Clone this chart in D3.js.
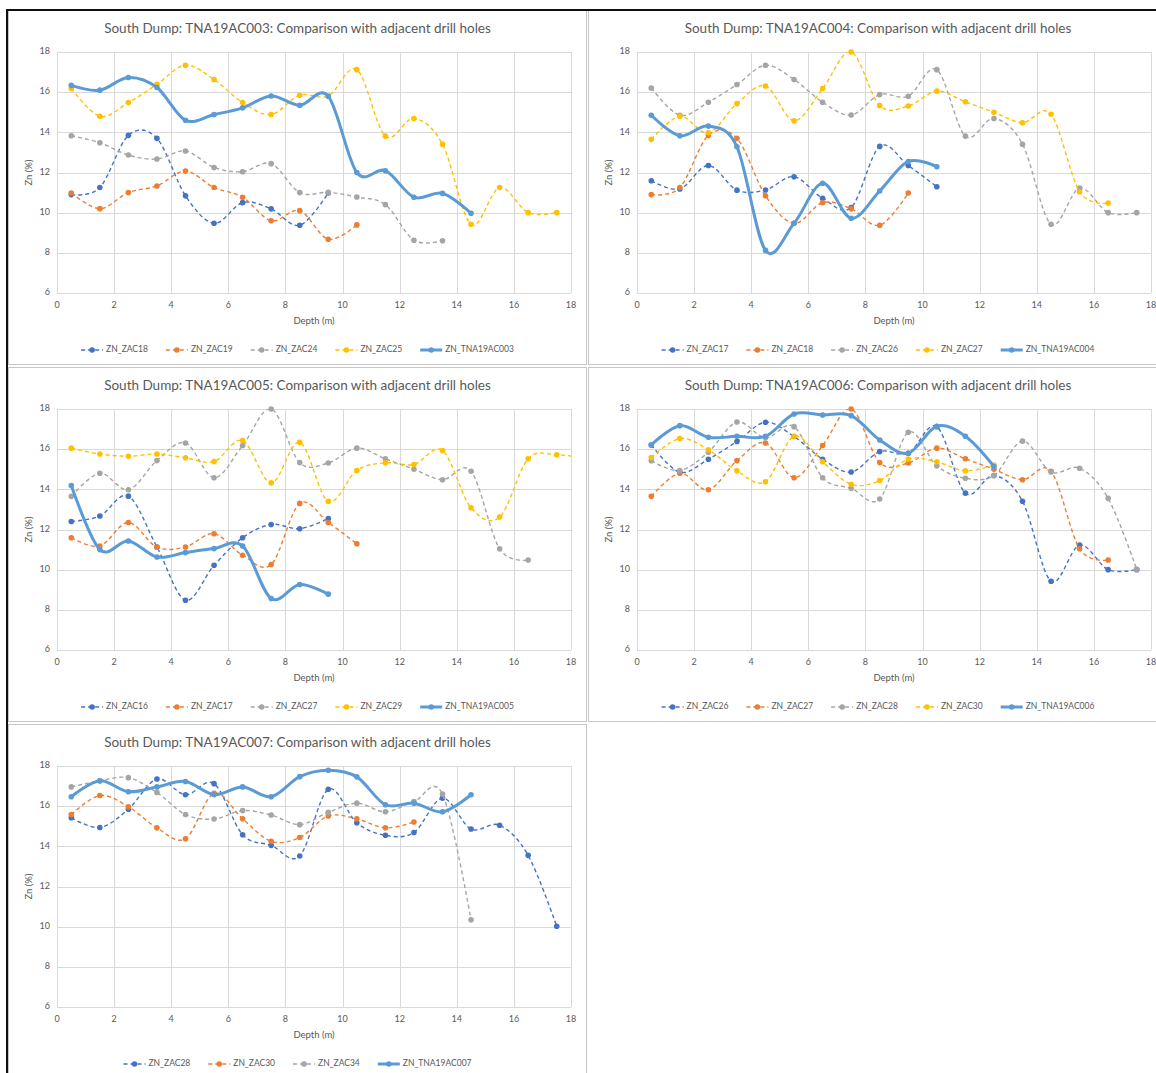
<!DOCTYPE html>
<html>
<head>
<meta charset="utf-8">
<script src="https://cdn.jsdelivr.net/npm/d3@7"></script>
<style>
  body { margin: 0; background: #fff; }
  text { font-family: Lato, "Open Sans", sans-serif; fill: #595959; }
</style>
</head>
<body>
<svg id="chart"></svg>
<script>

// #####################################################
// Data: Zn (%) per 1 m sample, plotted at sample mid depth
//
var depth = [0.5, 1.5, 2.5, 3.5, 4.5, 5.5, 6.5, 7.5, 8.5, 9.5, 10.5, 11.5, 12.5, 13.5, 14.5, 15.5, 16.5, 17.5, 18.5];

var zac16 = [12.40, 12.67, 13.66, 11.13, 8.48, 10.22, 11.59, 12.25, 12.04, 12.54];
var zac17 = [11.59, 11.18, 12.35, 11.12, 11.13, 11.79, 10.72, 10.26, 13.30, 12.35, 11.29];
var zac18 = [10.90, 11.25, 13.85, 13.70, 10.84, 9.47, 10.50, 10.19, 9.37, 10.98];
var zac19 = [10.98, 10.20, 11.00, 11.33, 12.07, 11.25, 10.77, 9.60, 10.10, 8.68, 9.39];
var zac24 = [13.83, 13.48, 12.87, 12.67, 13.07, 12.25, 12.04, 12.44, 11.00, 11.01, 10.78, 10.40, 8.63, 8.60];
var zac25 = [16.18, 14.80, 15.48, 16.39, 17.34, 16.63, 15.48, 14.89, 15.85, 15.81, 17.12, 13.81, 14.69, 13.41, 9.42, 11.25, 10.00, 10.00];
var zac26 = [16.21, 14.85, 15.50, 16.38, 17.34, 16.63, 15.50, 14.86, 15.88, 15.80, 17.12, 13.81, 14.69, 13.41, 9.42, 11.22, 10.00, 10.00];
var zac27 = [13.65, 14.80, 13.98, 15.43, 16.31, 14.58, 16.18, 18.00, 15.33, 15.31, 16.05, 15.52, 15.00, 14.48, 14.90, 11.04, 10.48];
var zac28 = [15.42, 14.94, 15.85, 17.35, 16.57, 17.12, 14.58, 14.05, 13.52, 16.84, 15.17, 14.55, 14.69, 16.40, 14.86, 15.05, 13.55, 10.02];
var zac29 = [16.05, 15.76, 15.65, 15.76, 15.57, 15.38, 16.43, 14.32, 16.34, 13.40, 14.94, 15.32, 15.24, 15.93, 13.08, 12.62, 15.52, 15.72, 15.55];
var zac30 = [15.58, 16.53, 15.97, 14.92, 14.38, 16.64, 15.37, 14.25, 14.44, 15.51, 15.37, 14.92, 15.21];
var zac34 = [16.96, 17.26, 17.42, 16.68, 15.58, 15.36, 15.78, 15.56, 15.08, 15.69, 16.15, 15.72, 16.23, 16.60, 10.34];

var tna003 = [16.34, 16.10, 16.73, 16.23, 14.60, 14.89, 15.22, 15.81, 15.35, 15.80, 12.00, 12.09, 10.77, 10.96, 9.97];
var tna004 = [14.85, 13.83, 14.31, 13.28, 8.12, 9.47, 11.46, 9.72, 11.08, 12.55, 12.29];
var tna005 = [14.19, 11.00, 11.43, 10.63, 10.85, 11.05, 11.18, 8.56, 9.26, 8.78];
var tna006 = [16.21, 17.17, 16.59, 16.64, 16.64, 17.75, 17.70, 17.67, 16.46, 15.80, 17.14, 16.64, 15.14];
var tna007 = [16.47, 17.26, 16.72, 16.96, 17.23, 16.57, 16.96, 16.47, 17.47, 17.79, 17.46, 16.07, 16.15, 15.72, 16.57];

var xTicks = [0, 2, 4, 6, 8, 10, 12, 14, 16, 18];
var yTicks = [6, 8, 10, 12, 14, 16, 18];

// which holes go on which chart (series order = Excel series order)
var holes003 = [['ZN_ZAC18', zac18], ['ZN_ZAC19', zac19], ['ZN_ZAC24', zac24], ['ZN_ZAC25', zac25], ['ZN_TNA19AC003', tna003]];
var holes004 = [['ZN_ZAC17', zac17], ['ZN_ZAC18', zac18], ['ZN_ZAC26', zac26], ['ZN_ZAC27', zac27], ['ZN_TNA19AC004', tna004]];
var holes005 = [['ZN_ZAC16', zac16], ['ZN_ZAC17', zac17], ['ZN_ZAC27', zac27], ['ZN_ZAC29', zac29], ['ZN_TNA19AC005', tna005]];
var holes006 = [['ZN_ZAC26', zac26], ['ZN_ZAC27', zac27], ['ZN_ZAC28', zac28], ['ZN_ZAC30', zac30], ['ZN_TNA19AC006', tna006]];
var holes007 = [['ZN_ZAC28', zac28], ['ZN_ZAC30', zac30], ['ZN_ZAC34', zac34], ['ZN_TNA19AC007', tna007]];

// #####################################################
// Page layout
//
var W = 1156, H = 1073;
var colors = ['#4472C4', '#ED7D31', '#A5A5A5', '#FFC000'];
var mainColor = '#5B9BD5';

var panels = [
  {name: 'TNA19AC003', holes: holes003, x: 8,   y: 10,  w: 579, h: 355},
  {name: 'TNA19AC004', holes: holes004, x: 588, y: 10,  w: 580, h: 355},
  {name: 'TNA19AC005', holes: holes005, x: 8,   y: 367, w: 579, h: 355},
  {name: 'TNA19AC006', holes: holes006, x: 588, y: 367, w: 580, h: 355},
  {name: 'TNA19AC007', holes: holes007, x: 8,   y: 724, w: 579, h: 360}
];

var svg = d3.select('#chart')
    .attr('width', W)
    .attr('height', H);

svg.append('rect').attr('width', W).attr('height', H).attr('fill', '#fff');

// #####################################################
// Draw one Excel style chart
//
function draw_panel(p, k) {
  var g = svg.append('g').attr('transform', 'translate(' + p.x + ',' + p.y + ')');

  g.append('rect')
      .attr('x', 0.5).attr('y', 0.5)
      .attr('width', p.w - 1).attr('height', p.h - 1)
      .attr('fill', '#fff')
      .attr('stroke', '#c6c6c6');

  var x = d3.scaleLinear().domain([0, 18]).range([49, 563]);
  var y = d3.scaleLinear().domain([6, 18]).range([283, 42]);

  // title
  g.append('text')
      .attr('x', p.w / 2).attr('y', 20)
      .attr('text-anchor', 'middle')
      .attr('dominant-baseline', 'middle')
      .style('font-size', '13.5px')
      .text('South Dump: ' + p.name + ': Comparison with adjacent drill holes');

  // gridlines
  g.append('g').selectAll('line').data(yTicks).enter().append('line')
      .attr('x1', x(0)).attr('x2', x(18))
      .attr('y1', function(d) { return Math.round(y(d)) + 0.5; })
      .attr('y2', function(d) { return Math.round(y(d)) + 0.5; })
      .attr('stroke', '#d9d9d9');
  g.append('g').selectAll('line').data(xTicks).enter().append('line')
      .attr('y1', y(6)).attr('y2', y(18))
      .attr('x1', function(d) { return Math.round(x(d)) + 0.5; })
      .attr('x2', function(d) { return Math.round(x(d)) + 0.5; })
      .attr('stroke', '#d9d9d9');

  // tick labels
  g.append('g').selectAll('text').data(yTicks).enter().append('text')
      .attr('x', 42).attr('y', function(d) { return y(d); })
      .attr('text-anchor', 'end')
      .attr('dominant-baseline', 'middle')
      .style('font-size', '9px')
      .text(function(d) { return d; });
  g.append('g').selectAll('text').data(xTicks).enter().append('text')
      .attr('x', function(d) { return x(d); }).attr('y', 296)
      .attr('text-anchor', 'middle')
      .attr('dominant-baseline', 'middle')
      .style('font-size', '9px')
      .text(function(d) { return d; });

  // axis titles
  g.append('text')
      .attr('x', (x(0) + x(18)) / 2).attr('y', 312)
      .attr('text-anchor', 'middle')
      .attr('dominant-baseline', 'middle')
      .style('font-size', '9.5px')
      .text('Depth (m)');
  g.append('text')
      .attr('transform', 'translate(22,' + (y(6) + y(18)) / 2 + ') rotate(-90)')
      .attr('text-anchor', 'middle')
      .attr('dominant-baseline', 'middle')
      .style('font-size', '9.5px')
      .text('Zn (%)');

  // clip to plot area
  var clipId = 'clip' + k;
  g.append('clipPath').attr('id', clipId)
    .append('rect')
      .attr('x', x(0)).attr('y', y(18))
      .attr('width', x(18) - x(0)).attr('height', y(6) - y(18));

  var smooth = d3.line()
      .x(function(d) { return x(d[0]); })
      .y(function(d) { return y(d[1]); })
      .curve(d3.curveCardinal.tension(0));

  p.holes.forEach(function(h, i) {
    var main = h[0].indexOf('TNA') >= 0;
    var col = main ? mainColor : colors[i];
    var pts = h[1].map(function(v, j) { return [depth[j], v]; });

    g.append('path')
        .datum(pts)
        .attr('clip-path', 'url(#' + clipId + ')')
        .attr('fill', 'none')
        .attr('stroke', col)
        .attr('stroke-width', main ? 3 : 1.4)
        .attr('stroke-dasharray', main ? null : '4,3')
        .attr('d', smooth);

    g.append('g').selectAll('circle')
        .data(pts.filter(function(d) { return d[0] <= 18; }))
        .enter().append('circle')
          .attr('cx', function(d) { return x(d[0]); })
          .attr('cy', function(d) { return y(d[1]); })
          .attr('r', 2.8)
          .attr('fill', col);
  });

  // legend
  var leg = g.append('g');
  var pos = 0;
  p.holes.forEach(function(h, i) {
    var main = h[0].indexOf('TNA') >= 0;
    var col = main ? mainColor : colors[i];
    var item = leg.append('g');
    item.append('line')
        .attr('x1', 0).attr('x2', 22).attr('y1', 0).attr('y2', 0)
        .attr('stroke', col)
        .attr('stroke-width', main ? 3 : 1.4)
        .attr('stroke-dasharray', main ? null : '4,3');
    item.append('circle').attr('cx', 11).attr('cy', 0).attr('r', 2.8).attr('fill', col);
    var t = item.append('text')
        .attr('x', 25).attr('y', 0)
        .attr('dominant-baseline', 'middle')
        .style('font-size', '8.5px')
        .text(h[0]);
    item.attr('transform', 'translate(' + pos + ',0)');
    pos += 25 + t.node().getComputedTextLength() + 18;
  });
  pos -= 18;
  leg.attr('transform', 'translate(' + (p.w / 2 - pos / 2) + ',340)');
}

panels.forEach(draw_panel);

// dark frame round the screenshot
svg.append('line').attr('x1', 6).attr('x2', W).attr('y1', 10).attr('y2', 10)
    .attr('stroke', '#111').attr('stroke-width', 2);
svg.append('line').attr('x1', 7).attr('x2', 7).attr('y1', 9).attr('y2', H)
    .attr('stroke', '#111').attr('stroke-width', 2);

</script>
</body>
</html>
